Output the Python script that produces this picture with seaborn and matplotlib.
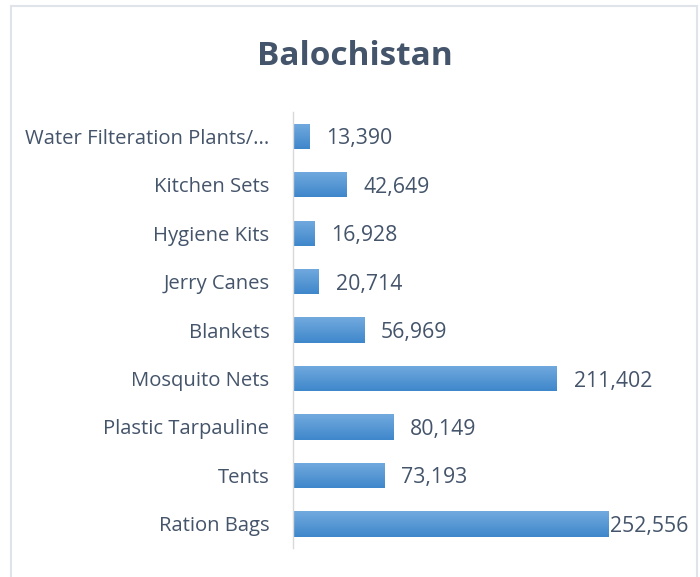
import numpy as np
import pandas as pd
import seaborn as sns
import matplotlib.pyplot as plt
from matplotlib.patches import Rectangle

# data, top to bottom as shown
items = ["Water Filteration Plants/...", "Kitchen Sets", "Hygiene Kits", "Jerry Canes",
         "Blankets", "Mosquito Nets", "Plastic Tarpauline", "Tents", "Ration Bags"]
counts = [13390, 42649, 16928, 20714, 56969, 211402, 80149, 73193, 252556]

df = pd.DataFrame({"item": items, "count": counts})

sns.set_theme(style="white")
plt.rcParams['font.family'] = ['Open Sans', 'DejaVu Sans']
txt = "#44546a"

fig = plt.figure(figsize=(7, 5.77), dpi=100)
ax = fig.add_axes([0.4186, 0.050, 0.535, 0.756])

sns.barplot(data=df, x="count", y="item", color="#5b9bd5", width=0.52,
            saturation=1, ax=ax)

# vertical gradient on each bar (light top, darker bottom)
grad = np.linspace(0, 1, 64).reshape(-1, 1)
cmap = plt.matplotlib.colors.LinearSegmentedColormap.from_list("g", ["#72aade", "#3f87cb"])
for p in ax.patches:
    x0, y0 = p.get_x(), p.get_y()
    w, h = p.get_width(), p.get_height()
    im = ax.imshow(grad, cmap=cmap, aspect="auto", extent=[x0, x0 + w, y0 + h, y0],
                   zorder=p.get_zorder() + 0.1)
    im.set_clip_path(p)

ax.set_xlim(0, 300000)
ax.set_ylim(len(items) - 0.5, -0.5)

# value labels
big = max(counts)
for p, v in zip(ax.patches, df["count"]):
    pad = 1500 if v == big else 13500
    ax.text(p.get_width() + pad, p.get_y() + p.get_height() / 2, f"{v:,}",
            va="center_baseline", ha="left", fontsize=15.3, color=txt)

ax.set_xlabel("")
ax.set_ylabel("")
ax.set_xticks([])
ax.tick_params(axis="y", length=0, pad=17, labelsize=14.6, labelcolor=txt)
for s in ["top", "right", "bottom"]:
    ax.spines[s].set_visible(False)
ax.spines["left"].set_color("#d9d9d9")
ax.spines["left"].set_linewidth(1)

fig.text(0.507, 0.902, "Balochistan", ha="center", va="center",
         fontsize=24, fontweight="bold", color=txt)

# chart frame
fig.patches.append(Rectangle((11 / 700, -0.01), 686 / 700, 1 - 6 / 577 + 0.01,
                             transform=fig.transFigure, fill=False,
                             edgecolor="#dfe3ea", linewidth=1.5))

fig.savefig("out.png", dpi=100)
